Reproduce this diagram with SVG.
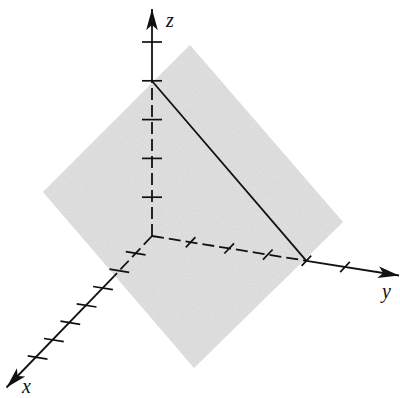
<svg xmlns="http://www.w3.org/2000/svg" width="400" height="398" viewBox="0 0 400 398">
  <defs>
    <style>
      .ax { stroke: #111; stroke-width: 1.8; fill: none; }
      .dash { stroke-dasharray: 12 5; }
      .tick { stroke: #111; stroke-width: 1.7; fill: none; }
      .lbl { font-family: "Liberation Serif", "Times New Roman", serif; font-style: italic; font-size: 20px; fill: #111; }
    </style>
    <filter id="grain" x="0" y="0" width="100%" height="100%">
      <feTurbulence type="fractalNoise" baseFrequency="0.9" numOctaves="2" seed="3" result="n"/>
      <feColorMatrix in="n" type="matrix" values="0 0 0 0 0.78  0 0 0 0 0.78  0 0 0 0 0.78  0 0 0 1.6 -0.5" result="g"/>
      <feComposite in="g" in2="SourceGraphic" operator="in" result="gi"/>
      <feMerge><feMergeNode in="SourceGraphic"/><feMergeNode in="gi"/></feMerge>
    </filter>
    <marker id="arr" markerUnits="userSpaceOnUse" markerWidth="24" markerHeight="14" viewBox="-22 -7 24 14" refX="0" refY="0" orient="auto">
      <path d="M0,0 L-21,-5.8 L-16,0 L-21,5.8 Z" fill="#111"/>
    </marker>
  </defs>

  <g id="plane">
    <polygon points="190,45 343,222 194,368 43,192" fill="#d9d9d9" filter="url(#grain)"/>
  </g>

  <g id="connectors">
    <!-- z axis -->
    <line class="ax dash" x1="152" y1="236" x2="152" y2="81"/>
    <line class="ax" x1="152" y1="81" x2="152" y2="9" marker-end="url(#arr)"/>
    <!-- y axis -->
    <line class="ax dash" x1="152" y1="236" x2="306.4" y2="260.8"/>
    <line class="ax" x1="306.4" y1="260.8" x2="399" y2="275.5" marker-end="url(#arr)"/>
    <!-- x axis -->
    <line class="ax dash" x1="152" y1="236" x2="114.4" y2="275.9"/>
    <line class="ax" x1="114.4" y1="275.9" x2="6.5" y2="387.5" marker-end="url(#arr)"/>
    <!-- trace line in plane -->
    <line class="ax" x1="152" y1="81" x2="306.4" y2="260.8" stroke-width="1.6"/>
  </g>

  <g id="ticks">
    <!-- z ticks -->
    <line class="tick" x1="142" y1="197.2" x2="162" y2="197.2"/>
    <line class="tick" x1="142" y1="158.4" x2="162" y2="158.4"/>
    <line class="tick" x1="142" y1="119.6" x2="162" y2="119.6"/>
    <line class="tick" x1="142" y1="80.8" x2="162" y2="80.8"/>
    <line class="tick" x1="142" y1="42" x2="162" y2="42"/>
    <!-- y ticks -->
    <line class="tick" x1="185.8" y1="247.3" x2="195.4" y2="237.1"/>
    <line class="tick" x1="224.4" y1="253.5" x2="234" y2="243.3"/>
    <line class="tick" x1="263" y1="259.7" x2="272.6" y2="249.5"/>
    <line class="tick" x1="301.6" y1="265.9" x2="311.2" y2="255.7"/>
    <line class="tick" x1="340.2" y1="272.1" x2="349.8" y2="261.9"/>
    <!-- x ticks -->
    <line class="tick" x1="125.8" y1="251.7" x2="145.6" y2="254.9"/>
    <line class="tick" x1="109.4" y1="269.1" x2="129.2" y2="272.3"/>
    <line class="tick" x1="93.1" y1="286.5" x2="112.9" y2="289.7"/>
    <line class="tick" x1="76.7" y1="303.8" x2="96.5" y2="307"/>
    <line class="tick" x1="60.4" y1="321.2" x2="80.2" y2="324.4"/>
    <line class="tick" x1="44" y1="338.5" x2="63.8" y2="341.7"/>
    <line class="tick" x1="27.7" y1="355.9" x2="47.5" y2="359.1"/>
  </g>

  <g id="labels">
    <text class="lbl" x="166" y="27">z</text>
    <text class="lbl" x="382" y="298">y</text>
    <text class="lbl" x="22" y="393">x</text>
  </g>
</svg>
